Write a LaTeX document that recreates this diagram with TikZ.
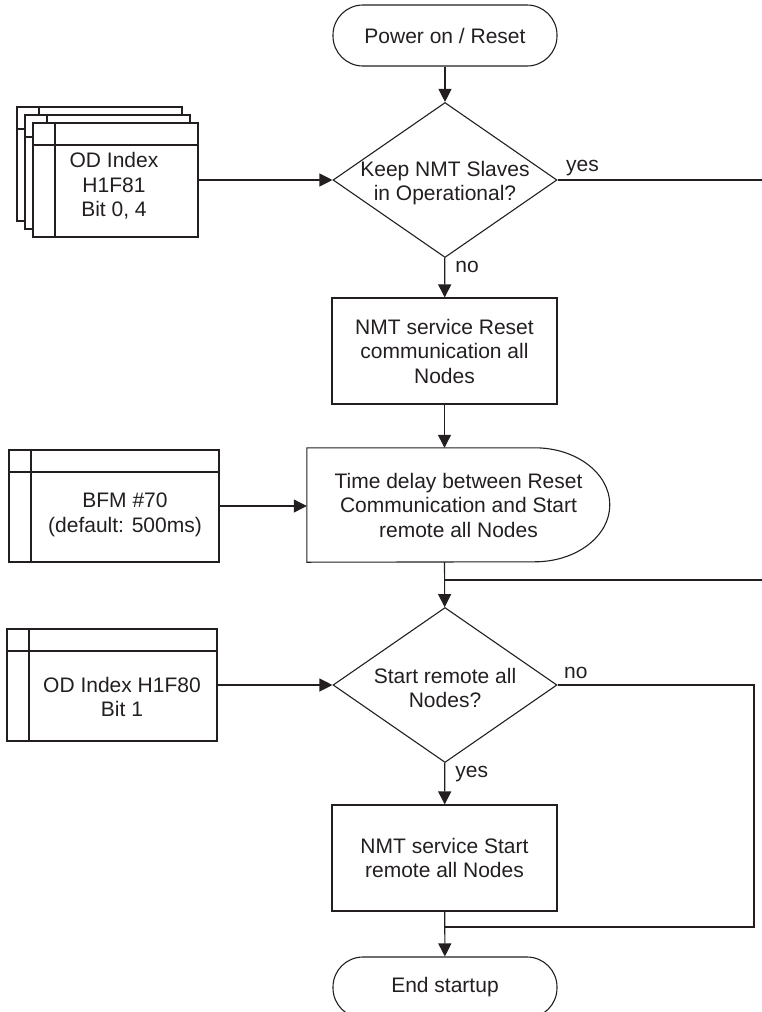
\documentclass[tikz,border=0pt]{standalone}
\usepackage{fontspec}
\setmainfont{Liberation Sans}
\usetikzlibrary{shapes.geometric,positioning,calc,arrows.meta}
\definecolor{INK}{RGB}{35,31,32}
\tikzset{LINE/.style={line width=1.1pt}}
\tikzset{ARROW/.style={line width=1.1pt, -{Triangle[length=13pt,width=13pt]}}}
\tikzset{TERMINAL/.style={rectangle, rounded corners=30pt, draw, line width=1.1pt, minimum width=224pt, minimum height=61pt}}
\tikzset{PROCESS/.style={rectangle, draw, line width=1.1pt, minimum width=225pt, minimum height=106pt, align=center}}
\tikzset{DECISION/.style={diamond, draw, line width=1.1pt, inner sep=0pt, minimum width=224pt, minimum height=155pt}}
\tikzset{DOC/.style={rectangle, draw, fill=white, line width=1.1pt, path picture={
    \draw[line width=1.1pt] ([yshift=-22pt]path picture bounding box.north west) -- ([yshift=-22pt]path picture bounding box.north east);
    \draw[line width=1.1pt] ([xshift=22pt]path picture bounding box.north west) -- ([xshift=22pt]path picture bounding box.south west);}}}
\tikzset{LABEL/.style={align=center, inner sep=0pt}}

\begin{document}
\begin{tikzpicture}[x=1pt, y=1pt, color=INK, font=\fontsize{21}{24.5}\selectfont]
    \useasboundingbox (0,0) rectangle (762,-1012);

    % main column
    \node[TERMINAL] (n_start) at (445,-35.5) {Power on / Reset};
    \node[DECISION] (n_keep) at (445,-180) {};
    \node[LABEL] (t_keep) at (445,-183) {Keep NMT Slaves\\in Operational?};
    \node[PROCESS] (n_reset) at (444.5,-351) {NMT service Reset\\communication all\\Nodes};
    \node[LABEL, minimum width=303pt, minimum height=114pt] (n_delay) at (458.5,-505) {Time delay between Reset\\Communication and Start\\remote all Nodes};
    \draw[LINE] (n_delay.south west) -- (n_delay.north west) -- ($(n_delay.north west)+(228,0)$)
        arc[start angle=90, end angle=-90, x radius=75pt, y radius=57pt] -- cycle;
    \node[DECISION] (n_remote) at (445,-685) {};
    \node[LABEL] (t_remote) at (445,-688) {Start remote all\\Nodes?};
    \node[PROCESS] (n_startall) at (444.5,-858) {NMT service Start\\remote all Nodes};
    \node[TERMINAL] (n_end) at (445,-987.5) {End startup};

    % parameter sources
    \node[DOC, minimum width=165pt, minimum height=114pt] (n_od81c) at (99.5,-164) {};
    \node[DOC, minimum width=165pt, minimum height=114pt] (n_od81b) at (107.5,-172) {};
    \node[DOC, minimum width=165pt, minimum height=114pt] (n_od81) at (115.5,-180) {};
    \node[LABEL] (t_od81) at (114,-186) {OD Index\\H1F81\\Bit 0, 4};
    \node[DOC, minimum width=210pt, minimum height=112pt] (n_bfm) at (114,-506) {};
    \node[LABEL] (t_bfm) at (125,-515) {BFM \#70\\(default: 500ms)};
    \node[DOC, minimum width=210pt, minimum height=112pt] (n_od80) at (112,-685) {};
    \node[LABEL] (t_od80) at (122,-697) {OD Index H1F80\\Bit 1};

    \coordinate (c_yes) at (770,-180);
    \coordinate (c_join1) at (445,-580);
    \coordinate (c_no) at (754,-927);
    \coordinate (c_join2) at (445,-927);

    \draw[ARROW] (n_start) -- (n_keep);
    \draw[ARROW] (n_keep) -- (n_reset) node[LABEL, pos=0, below right=3pt and 10pt]{no};
    \draw[ARROW] (n_reset) -- (n_reset.south |- n_delay.north);
    \draw[ARROW] (n_reset.south |- n_delay.south) -- (n_remote);
    \draw[ARROW] (n_remote) -- (n_startall) node[LABEL, pos=0, below right=2.5pt and 10pt]{yes};
    \draw[ARROW] (n_startall) -- (n_end);

    \draw[LINE] (n_keep.east) node[LABEL, above right=4pt and 8pt]{yes} -- (c_yes) |- (c_join1);
    \draw[LINE] (n_remote.east) node[LABEL, above right=6pt and 6pt]{no} -| (c_no) -- (c_join2);

    \draw[ARROW] (n_od81.east) -- (n_keep.west);
    \draw[ARROW] (n_bfm.east) -- (n_bfm.east -| n_delay.west);
    \draw[ARROW] (n_od80.east) -- (n_remote.west);
\end{tikzpicture}
\end{document}
